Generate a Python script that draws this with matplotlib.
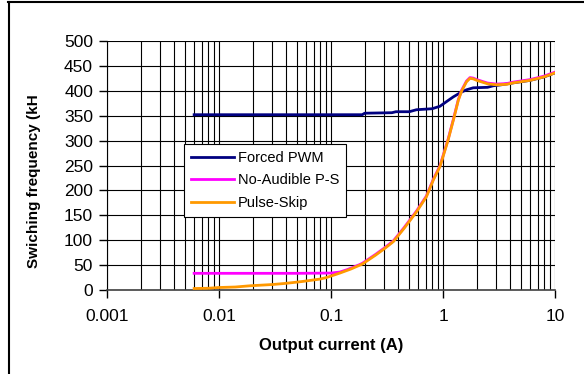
import matplotlib.pyplot as plt
from matplotlib.lines import Line2D
from matplotlib.ticker import FixedLocator, FuncFormatter, LogLocator, NullFormatter

plt.rcParams['font.family'] = ['Liberation Sans', 'DejaVu Sans']

pwm_x = [0.006, 0.05, 0.19, 0.2, 0.35, 0.38, 0.5, 0.58, 0.8, 0.94, 1.07, 1.24, 1.45, 1.62, 1.86, 2.5, 2.8, 3.3, 4.25, 6.0, 8.0, 10]
pwm_y = [352, 352, 352, 355, 356, 358, 358, 362, 364, 369, 378, 388, 397, 402, 406, 407, 410, 412, 416, 421, 428, 436]

nap_x = [0.006, 0.05, 0.1, 0.12, 0.14, 0.18]
nap_y = [33.5, 33.5, 34, 36, 41, 51]

skip_x = [0.006, 0.008, 0.01, 0.014, 0.019, 0.025, 0.03, 0.038, 0.046, 0.055, 0.069, 0.08,
          0.091, 0.1, 0.12, 0.15, 0.19, 0.25, 0.3, 0.36, 0.45, 0.58, 0.71, 0.82, 0.94, 1.11,
          1.25, 1.37, 1.47, 1.62, 1.74, 1.86, 2.0, 2.5, 3.0, 3.7, 4.25, 6.0, 8.0, 10]
skip_y = [3, 3.5, 5, 6, 8.5, 10, 11, 13, 15, 17, 20, 22,
          25, 28, 34, 42, 52, 70, 83, 97, 124, 157, 187, 221, 248, 301,
          345, 381, 400, 418, 425, 424, 421, 414, 412, 413, 416, 421, 428, 436]

fig = plt.figure(figsize=(5.84, 3.74), dpi=100)
ax = fig.add_axes([107 / 584, 1 - 290 / 374, 448 / 584, 249 / 374])

# no-audible mode follows pulse-skip above ~0.19 A, drawn just above it
i0 = skip_x.index(0.19)
ax.plot(pwm_x, pwm_y, color='#000080', lw=2, label='Forced PWM', zorder=3)
ax.plot(nap_x + skip_x[i0:], nap_y + [v + 1.5 for v in skip_y[i0:]],
        color='#FF00FF', lw=2, label='No-Audible P-S', zorder=3)
ax.plot(skip_x, skip_y, color='#FF9900', lw=2, label='Pulse-Skip', zorder=4)

ax.set_xscale('log')
ax.set_xlim(0.001, 10)
ax.set_ylim(0, 500)
ax.set_yticks(range(0, 501, 50))
ax.xaxis.set_major_locator(FixedLocator([0.001, 0.01, 0.1, 1, 10]))
ax.xaxis.set_major_formatter(FuncFormatter(lambda v, p: '%g' % v))
ax.xaxis.set_minor_locator(LogLocator(base=10, subs=range(2, 10)))
ax.xaxis.set_minor_formatter(NullFormatter())
ax.grid(True, which='both', axis='x', color='black', lw=0.8)
ax.grid(True, which='major', axis='y', color='black', lw=0.8)
ax.tick_params(axis='x', which='minor', length=0)
ax.tick_params(axis='both', which='major', length=6, width=1, direction='out',
               labelsize=12.5, pad=8, color='black')
ax.tick_params(axis='y', pad=4)

for s in ['top', 'right']:
    ax.spines[s].set_visible(False)
ax.spines['left'].set_color('black')
ax.spines['bottom'].set_color('#404040')
ax.spines['bottom'].set_linewidth(1.2)

leg = ax.legend(loc='upper left', bbox_to_anchor=(0.172, 0.586), borderaxespad=0,
                fontsize=10.5, frameon=True, fancybox=False, framealpha=1, edgecolor='black',
                borderpad=0.45, handlelength=3.0, labelspacing=0.6, handletextpad=0.25)
leg.get_frame().set_linewidth(0.8)
leg.set_zorder(5)

ax.set_xlabel('Output current (A)', fontsize=12, fontweight='bold', labelpad=10)

# the label is cut off at the top in the original
fig.text(34 / 584, 1 - 268 / 374, 'Swiching frequency (kH', rotation=90,
         fontsize=11, fontweight='bold', ha='center', va='bottom')

fig.add_artist(Line2D([8 / 584, 1], [1 - 1.5 / 374] * 2, color='black', lw=1.5))
fig.add_artist(Line2D([8.5 / 584] * 2, [0, 1 - 1.5 / 374], color='black', lw=1.5))

fig.savefig('out.png', dpi=100)
